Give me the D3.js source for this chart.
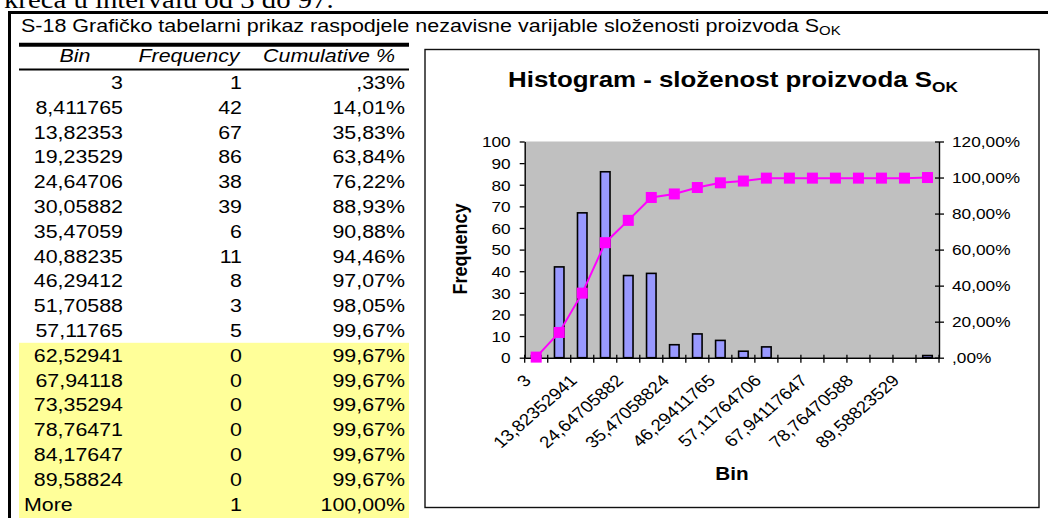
<!DOCTYPE html>
<html>
<head>
<meta charset="utf-8">
<script src="https://cdn.jsdelivr.net/npm/d3@7"></script>
<style>
  body { margin: 0; background: #fff; }
  svg { display: block; font-family: "Liberation Sans", Arial, sans-serif; }
</style>
</head>
<body>
<div id="chart"></div>
<script>
// table / chart data
var binLabels = ["3", "8,411765", "13,82353", "19,23529", "24,64706", "30,05882", "35,47059",
    "40,88235", "46,29412", "51,70588", "57,11765", "62,52941", "67,94118", "73,35294",
    "78,76471", "84,17647", "89,58824", "More"];
var frequency = [1, 42, 67, 86, 38, 39, 6, 11, 8, 3, 5, 0, 0, 0, 0, 0, 0, 1];
var cumulative = [0.33, 14.01, 35.83, 63.84, 76.22, 88.93, 90.88, 94.46, 97.07, 98.05, 99.67,
    99.67, 99.67, 99.67, 99.67, 99.67, 99.67, 100.00];
var cumulativeLabels = [",33%", "14,01%", "35,83%", "63,84%", "76,22%", "88,93%", "90,88%",
    "94,46%", "97,07%", "98,05%", "99,67%", "99,67%", "99,67%", "99,67%", "99,67%", "99,67%",
    "99,67%", "100,00%"];
// axis tick labels (excel shows every second one)
var axisLabels = ["3", "8,411764706", "13,82352941", "19,23529412", "24,64705882", "30,05882353",
    "35,47058824", "40,88235294", "46,29411765", "51,70588235", "57,11764706", "62,52941176",
    "67,94117647", "73,35294118", "78,76470588", "84,17647059", "89,58823529", "More"];
var freqTicks = [0, 10, 20, 30, 40, 50, 60, 70, 80, 90, 100];
var pctTicks = [0, 20, 40, 60, 80, 100, 120];
var firstHighlighted = 11; // rows from 62,52941 on are yellow

var K = 1.15; // the scan is stretched horizontally

var width = 1048, height = 518;

var svg = d3.select("#chart").append("svg")
    .attr("width", width)
    .attr("height", height);

// text helper, keeps the horizontal stretch of the original
function txt(g, x, y, s, size, anchor, extra) {
    var t = g.append("text")
        .attr("transform", "translate(" + x + "," + y + ") scale(" + K + ",1)" + (extra || ""))
        .attr("font-size", size)
        .attr("text-anchor", anchor || "start")
        .attr("fill", "#000")
        .text(s);
    return t;
}

// page text cut at the top
txt(svg, 4, 7.5, "kreća u intervalu od 3 do 97.", 25)
    .attr("font-family", "'Liberation Serif', 'Times New Roman', serif");

// outer frame
svg.append("line").attr("x1", 8).attr("x2", width).attr("y1", 12.5).attr("y2", 12.5)
    .attr("stroke", "#000").attr("stroke-width", 3);
svg.append("line").attr("x1", 9.5).attr("x2", 9.5).attr("y1", 11).attr("y2", height)
    .attr("stroke", "#000").attr("stroke-width", 3);

var cap = txt(svg, 21, 31.5, "S-18 Grafičko tabelarni prikaz raspodjele nezavisne varijable složenosti proizvoda S", 18.7);
cap.append("tspan").attr("font-size", 13).attr("dy", 3).text("OK");

// ---------- table ----------
var table = svg.append("g");

var rowY = d3.scaleBand()
    .domain(d3.range(binLabels.length))
    .range([70, 70 + 24.8 * binLabels.length]);

table.append("rect")
    .attr("x", 19)
    .attr("y", rowY(firstHighlighted))
    .attr("width", 390)
    .attr("height", height - rowY(firstHighlighted))
    .attr("fill", "#FFFF99");

table.append("line").attr("x1", 19).attr("x2", 409).attr("y1", 44.7).attr("y2", 44.7)
    .attr("stroke", "#000").attr("stroke-width", 4);
table.append("line").attr("x1", 19).attr("x2", 409).attr("y1", 69.5).attr("y2", 69.5)
    .attr("stroke", "#000").attr("stroke-width", 2);

txt(table, 75, 62, "Bin", 18.6, "middle").attr("font-style", "italic");
txt(table, 189, 62, "Frequency", 18.6, "middle").attr("font-style", "italic");
txt(table, 329, 62, "Cumulative %", 18.6, "middle").attr("font-style", "italic");

binLabels.forEach(function (b, i) {
    var yy = rowY(i) + rowY.bandwidth() / 2 + 6.5;
    if (b == "More") {
        txt(table, 24, yy, b, 18.6, "start");
    } else {
        txt(table, 123, yy, b, 18.6, "end");
    }
    txt(table, 242, yy, frequency[i], 18.6, "end");
    txt(table, 405, yy, cumulativeLabels[i], 18.6, "end");
});

// ---------- chart ----------
var chart = svg.append("g");

chart.append("rect")
    .attr("x", 425).attr("y", 49.5)
    .attr("width", 614).attr("height", 458)
    .attr("fill", "#fff").attr("stroke", "#111").attr("stroke-width", 1.4);

var plot = {left: 524.7, right: 939, top: 141.5, bottom: 357.7};

var x = d3.scaleBand().domain(d3.range(axisLabels.length)).range([plot.left, plot.right]).padding(0),
    y = d3.scaleLinear().domain([0, 100]).range([plot.bottom, plot.top]),
    y2 = d3.scaleLinear().domain([0, 120]).range([plot.bottom, plot.top]);

chart.append("rect")
    .attr("x", plot.left).attr("y", plot.top)
    .attr("width", plot.right - plot.left).attr("height", plot.bottom - plot.top)
    .attr("fill", "#C0C0C0");

var barWidth = 9.5;

chart.selectAll(".bar")
    .data(frequency)
    .enter().append("rect")
    .attr("class", "bar")
    .attr("x", function (d, i) { return x(i) + x.bandwidth() / 2 - barWidth / 2; })
    .attr("y", function (d) { return y(d); })
    .attr("width", barWidth)
    .attr("height", function (d) { return plot.bottom - y(d); })
    .attr("fill", "#9999FF")
    .attr("stroke", "#000")
    .attr("stroke-width", 1.6);

// left axis
var leftAxis = chart.append("g")
    .attr("transform", "translate(" + plot.left + ",0)")
    .call(d3.axisLeft(y).tickValues(freqTicks).tickSize(5).tickSizeOuter(0).tickPadding(9));

// right axis
var rightAxis = chart.append("g")
    .attr("transform", "translate(" + plot.right + ",0)")
    .call(d3.axisRight(y2).tickValues(pctTicks).tickSize(5).tickSizeOuter(0).tickPadding(8)
        .tickFormat(function (d) { return (d === 0 ? "" : d) + ",00%"; }));

rightAxis.selectAll(".tick line").attr("x1", -4);

// bottom axis, ticks on the category edges
var bottomAxis = chart.append("g")
    .attr("transform", "translate(0," + plot.bottom + ")")
    .call(d3.axisBottom(x).tickSize(0).tickSizeOuter(0).tickFormat(""));

bottomAxis.selectAll(".tick").remove();
bottomAxis.selectAll(".edge")
    .data(d3.range(axisLabels.length + 1))
    .enter().append("line")
    .attr("class", "edge")
    .attr("x1", function (d) { return plot.left + d * x.step(); })
    .attr("x2", function (d) { return plot.left + d * x.step(); })
    .attr("y1", -3)
    .attr("y2", 5)
    .attr("stroke", "#000")
    .attr("stroke-width", 1.3);

[leftAxis, rightAxis, bottomAxis].forEach(function (a) {
    a.attr("font-family", null).attr("font-size", null);
    a.select(".domain").attr("stroke", "#000").attr("stroke-width", 1.4);
    a.selectAll(".tick line").attr("stroke", "#000").attr("stroke-width", 1.3);
    a.selectAll(".tick text").each(function () {
        var t = d3.select(this);
        var tx = +t.attr("x");
        t.attr("x", 0)
            .attr("dy", "0.35em")
            .attr("transform", "translate(" + tx + ",0) scale(" + K + ",1)")
            .attr("font-size", 15)
            .attr("fill", "#000");
    });
});

// rotated category labels, every second one
axisLabels.forEach(function (lab, i) {
    if (i % 2 != 0) return;
    var cx = x(i) + x.bandwidth() / 2;
    txt(chart, cx - 4, plot.bottom + 24, lab, 16.3, "end", " rotate(-45)");
});

// cumulative line
var line = d3.line()
    .x(function (d, i) { return x(i) + x.bandwidth() / 2; })
    .y(function (d) { return y2(d); });

chart.append("path")
    .datum(cumulative)
    .attr("d", line)
    .attr("fill", "none")
    .attr("stroke", "#FF00FF")
    .attr("stroke-width", 2);

var markerSize = 11;
chart.selectAll(".marker")
    .data(cumulative)
    .enter().append("rect")
    .attr("class", "marker")
    .attr("x", function (d, i) { return x(i) + x.bandwidth() / 2 - markerSize / 2; })
    .attr("y", function (d) { return y2(d) - markerSize / 2; })
    .attr("width", markerSize)
    .attr("height", markerSize)
    .attr("fill", "#FF00FF");

// titles
var title = txt(chart, 733, 87, "Histogram - složenost proizvoda S", 22.5, "middle")
    .attr("font-weight", "bold");
title.append("tspan").attr("font-size", 15).attr("dy", 5).text("OK");

txt(chart, 732, 480, "Bin", 18, "middle").attr("font-weight", "bold");
txt(chart, 467, 249, "Frequency", 18, "middle", " rotate(-90)").attr("font-weight", "bold");
</script>
</body>
</html>
